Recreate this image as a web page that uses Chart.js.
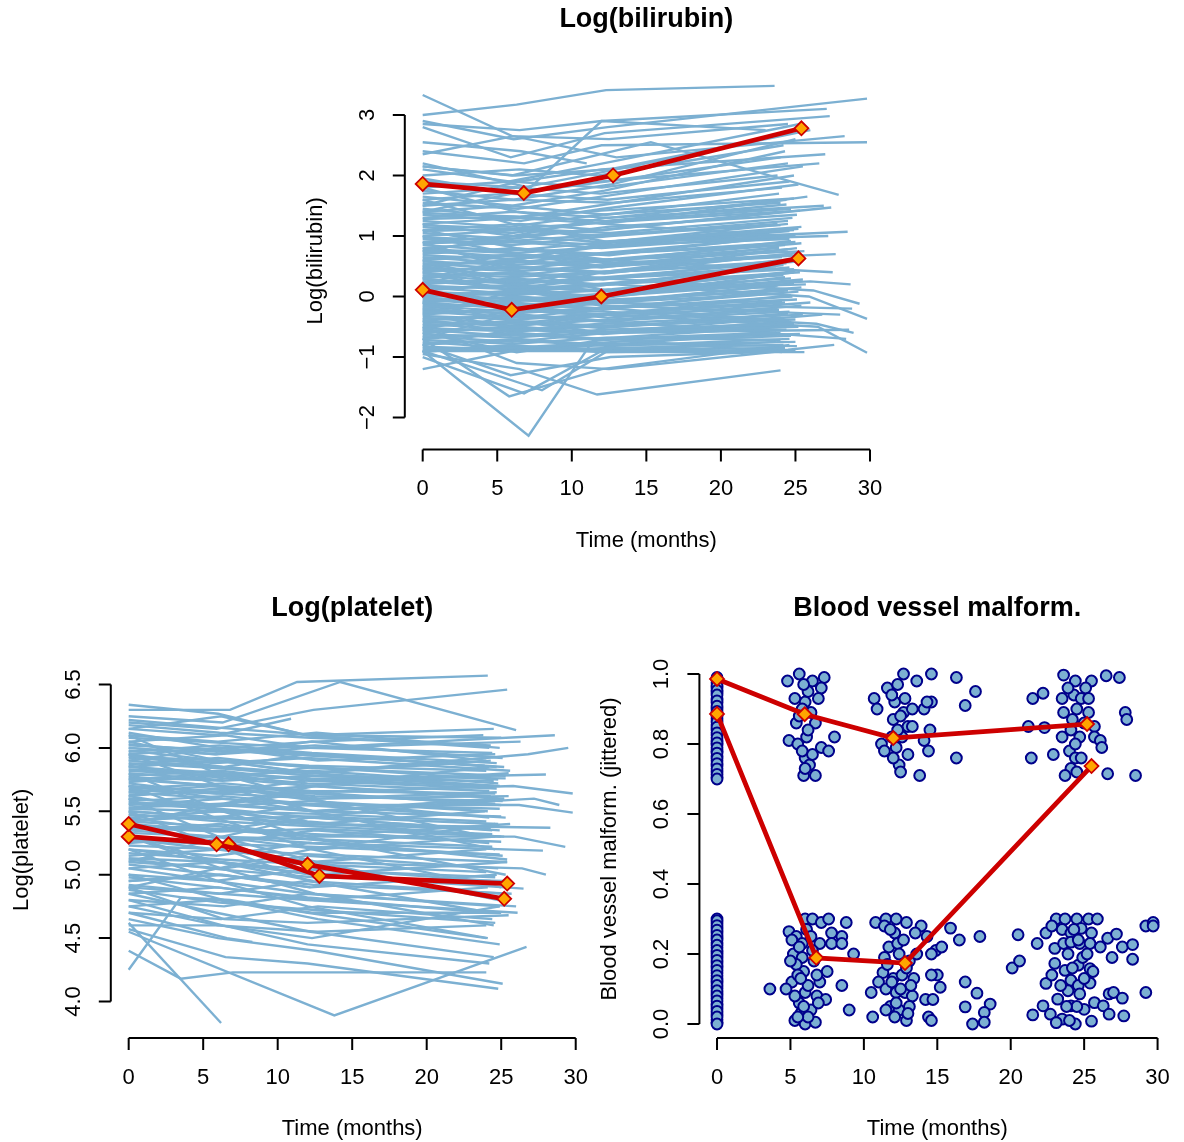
<!DOCTYPE html>
<html>
<head>
<meta charset="utf-8">
<script src="https://cdn.jsdelivr.net/npm/chart.js@4.4.1/dist/chart.umd.min.js"></script>
<style>
html, body { margin: 0; padding: 0; background: #fff; }
#wrap { position: relative; width: 1184px; height: 1142px; }
#wrap canvas { position: absolute; left: 0; top: 0; }
</style>
</head>
<body>
<div id="wrap">
  <canvas id="biliChart" width="1184" height="1142"></canvas>
  <canvas id="plateletChart" width="1184" height="1142"></canvas>
  <canvas id="vesselChart" width="1184" height="1142"></canvas>
</div>
<script>
// ---- data ----
var timeTicks = [0, 5, 10, 15, 20, 25, 30];

var biliTicks = [-2, -1, 0, 1, 2, 3];
var biliTickLabels = ['\u22122', '\u22121', '0', '1', '2', '3'];
// one patient per row: time, value, time, value, ...
var biliCurves = [
    [0,2.15, 6.2,2.0, 12.5,2.1, 24.8,2.7],
    [0,2.1, 5.8,1.9, 12.1,2.2, 25.3,2.85],
    [0,2.0, 6.5,2.1, 11.8,2.0, 24.2,2.5],
    [0,1.95, 6.0,1.7, 12.3,1.9, 24.0,2.3],
    [0,1.9, 6.7,1.8, 13.0,2.1, 26.0,2.75],
    [0,1.8, 5.9,1.9, 12.0,1.8, 24.5,2.2],
    [0,1.75, 6.1,1.6, 12.6,1.85, 25.0,2.6],
    [0,1.7, 6.3,1.8, 11.9,1.7, 23.8,2.0],
    [0,1.65, 6.0,1.5, 12.2,1.75, 24.3,2.4],
    [0,1.6, 5.7,1.7, 12.4,1.6, 24.6,1.9],
    [0,1.55, 6.4,1.45, 12.0,1.65, 25.5,2.15],
    [0,1.5, 6.0,1.6, 12.8,1.55, 24.1,1.8],
    [0,1.45, 6.2,1.3, 11.7,1.5, 24.9,2.0],
    [0,1.4, 5.9,1.5, 12.3,1.35, 23.9,1.7],
    [0,1.35, 6.6,1.25, 12.1,1.45, 25.2,1.85],
    [0,1.3, 6.1,1.4, 12.5,1.3, 24.4,1.6],
    [0,1.25, 5.8,1.15, 11.9,1.35, 24.0,1.55],
    [0,1.2, 6.3,1.3, 12.2,1.2, 25.8,1.65],
    [0,1.15, 6.0,1.05, 12.7,1.25, 24.7,1.45],
    [0,1.1, 6.5,1.2, 12.0,1.1, 24.2,1.4],
    [0,1.05, 5.9,0.95, 12.4,1.15, 25.1,1.35],
    [0,1.0, 6.2,1.1, 12.1,1.0, 24.5,1.25],
    [0,0.95, 6.0,0.85, 12.6,1.0, 23.8,1.2],
    [0,0.9, 6.4,1.0, 11.8,0.9, 24.9,1.1],
    [0,0.85, 5.7,0.75, 12.3,0.9, 25.4,1.15],
    [0,0.8, 6.1,0.9, 12.0,0.8, 24.0,1.0],
    [0,0.75, 6.6,0.65, 12.9,0.85, 24.6,0.95],
    [0,0.7, 6.0,0.8, 12.2,0.7, 25.0,0.9],
    [0,0.65, 5.8,0.55, 11.9,0.7, 24.3,0.85],
    [0,0.6, 6.3,0.7, 12.5,0.6, 23.9,0.8],
    [0,0.55, 6.1,0.45, 12.1,0.6, 25.6,0.75],
    [0,0.5, 5.9,0.6, 12.7,0.5, 24.8,0.7],
    [0,0.45, 6.4,0.35, 12.0,0.5, 24.1,0.65],
    [0,0.4, 6.0,0.5, 12.4,0.4, 25.2,0.6],
    [0,0.35, 6.2,0.25, 11.8,0.4, 24.4,0.55],
    [0,0.3, 5.8,0.4, 12.6,0.3, 23.7,0.5],
    [0,0.25, 6.5,0.15, 12.2,0.3, 24.9,0.45],
    [0,0.2, 6.1,0.3, 12.0,0.2, 25.3,0.4],
    [0,0.15, 5.9,0.05, 12.3,0.2, 24.2,0.35],
    [0,0.1, 6.3,0.2, 11.9,0.1, 24.7,0.3],
    [0,0.05, 6.0,-0.05, 12.5,0.05, 25.0,0.25],
    [0,0.0, 6.2,0.1, 12.1,0.0, 23.9,0.2],
    [0,-0.05, 5.7,-0.15, 12.8,-0.05, 24.5,0.1],
    [0,-0.1, 6.4,0.0, 12.0,-0.1, 25.4,0.15],
    [0,-0.15, 6.1,-0.25, 12.4,-0.1, 24.1,0.05],
    [0,-0.2, 5.9,-0.1, 12.2,-0.2, 24.8,0.0],
    [0,-0.25, 6.6,-0.35, 11.7,-0.2, 25.1,-0.05],
    [0,-0.3, 6.0,-0.2, 12.6,-0.3, 24.3,-0.1],
    [0,-0.35, 6.2,-0.45, 12.1,-0.3, 23.8,-0.2],
    [0,-0.4, 5.8,-0.3, 12.3,-0.4, 24.6,-0.25],
    [0,-0.45, 6.3,-0.55, 12.0,-0.45, 25.5,-0.3],
    [0,-0.5, 6.1,-0.4, 12.7,-0.5, 24.0,-0.35],
    [0,-0.55, 5.9,-0.65, 12.2,-0.55, 24.9,-0.45],
    [0,-0.6, 6.5,-0.5, 11.8,-0.6, 25.2,-0.5],
    [0,-0.65, 6.0,-0.75, 12.4,-0.6, 24.4,-0.55],
    [0,-0.7, 6.2,-0.6, 12.0,-0.7, 23.7,-0.6],
    [0,-0.75, 5.7,-0.85, 12.9,-0.75, 24.7,-0.65],
    [0,-0.8, 6.4,-0.7, 12.1,-0.8, 25.0,-0.75],
    [0,-0.85, 6.0,-0.9, 12.5,-0.85, 24.2,-0.8],
    [0,-0.9, 6.1,-0.9, 12.3,-0.9, 24.8,-0.9],
    [0,-0.92, 5.9,-0.8, 12.0,-0.92, 25.6,-0.92],
    [0,-0.6, 6.3,-0.92, 12.6,-0.7, 24.1,-0.92],
    [0,0.3, 6.5,0.1, 12.8,0.2, 25.9,0.0, 29.8,-0.37],
    [0,-0.4, 6.1,-0.5, 12.4,-0.3, 26.5,-0.5, 29.8,-0.93],
    [0,0.5, 5.8,0.2, 12.2,0.3, 26.2,0.1, 29.3,-0.12],
    [0,-0.2, 6.7,-0.3, 12.0,-0.4, 28.4,-0.7],
    [0,2.15, 6.0,2.0, 15.3,2.55, 27.9,1.68],
    [0,2.9, 6.1,2.6, 12.4,2.8, 29.8,3.27],
    [0,2.4, 6.8,2.2, 12.0,2.5, 29.8,2.55],
    [0,3.0, 6.3,3.17, 12.3,3.41, 23.6,3.48],
    [0,3.33, 6.0,2.65, 12.5,2.6, 24.5,2.85],
    [0,2.85, 6.5,2.75, 12.0,2.9, 27.1,3.1],
    [0,2.8, 5.9,2.3, 12.2,2.7, 27.3,2.98],
    [0,2.55, 6.6,2.4, 11.0,2.2],
    [0,2.35, 6.1,2.65, 13.0,2.3, 28.3,2.65],
    [0,2.2, 7.2,1.8, 12.0,2.9, 23.0,2.75],
    [0,-1.2, 6.0,-0.9, 12.3,-0.8, 24.0,-0.6],
    [0,-0.9, 7.1,-2.3, 11.5,-0.7, 24.2,-0.5],
    [0,-0.7, 5.8,-1.65, 12.0,-1.2, 24.6,-0.8],
    [0,-0.9, 8.0,-1.55, 12.4,-0.9, 23.7,-0.75],
    [0,-0.95, 6.5,-1.2, 11.7,-1.62, 24.0,-1.22],
    [0,-0.5, 6.3,-1.1, 12.5,-1.2, 24.1,-0.9],
    [0,-1.0, 6.8,-1.6, 12.0,-0.9],
    [0,-0.8, 5.9,-1.3, 12.6,-1.0, 25.0,-0.9],
    [0,1.0, 6.2,0.7, 12.1,0.5],
    [0,0.3, 5.9,0.6],
    [0,1.6, 6.0,1.2, 12.4,0.9, 24.5,1.2],
    [0,-0.3, 6.4,0.1, 12.0,0.4, 25.1,0.8],
    [0,0.6, 6.1,0.2, 12.7,-0.2, 24.3,-0.4],
    [0,1.8, 6.3,1.4, 12.2,1.2, 24.0,1.0],
    [0,-0.7, 5.8,-0.3, 12.5,0.0, 24.9,0.4],
    [0,0.9, 6.6,0.4, 12.3,0.1, 25.7,0.2],
    [0,1.4, 6.0,1.7, 12.0,1.9, 26.6,2.2],
    [0,0.2, 6.2,0.6, 12.8,0.9, 27.2,1.0],
    [0,-0.1, 6.0,-0.4, 12.1,-0.6, 26.8,-0.3],
    [0,1.1, 6.3,0.8, 12.6,0.6, 27.5,0.4],
    [0,0.4, 5.9,0.1, 12.0,-0.1, 28.8,-0.2],
    [0,-0.55, 6.5,-0.2, 12.4,-0.35, 26.0,-0.1],
    [0,0.75, 6.1,1.0, 12.2,1.3, 26.9,1.5],
    [0,1.5, 6.4,1.9, 12.0,2.1, 27.0,2.35],
    [0,0.8, 6.0,0.6, 12.9,0.9, 28.5,1.07],
    [0,0.45, 6.3,0.7, 12.4,0.55, 27.7,0.7],
    [0,1.2, 6.1,1.0, 12.1,1.1, 27.4,1.47],
    [0,-0.25, 5.9,-0.05, 12.6,-0.15, 28.0,-0.3],
    [0,-0.8, 6.2,-0.55, 12.0,-0.6, 28.6,-0.55],
    [0,-0.88, 6.0,-0.82, 12.2,-0.88, 24.3,-0.85],
    [0,-0.83, 6.3,-0.88, 12.0,-0.78, 25.1,-0.82],
    [0,-0.78, 5.8,-0.72, 12.5,-0.82, 24.6,-0.7],
    [0,-0.72, 6.1,-0.78, 12.3,-0.68, 24.0,-0.72],
    [0,-0.67, 6.4,-0.62, 11.9,-0.72, 25.3,-0.62],
    [0,-0.62, 6.0,-0.68, 12.6,-0.58, 24.8,-0.48],
    [0,-0.57, 5.9,-0.52, 12.1,-0.62, 24.2,-0.42],
    [0,-0.52, 6.2,-0.58, 12.4,-0.48, 25.0,-0.38],
    [0,-0.47, 6.5,-0.42, 12.0,-0.52, 24.5,-0.28],
    [0,-0.42, 6.0,-0.48, 12.7,-0.38, 23.9,-0.22],
    [0,-0.37, 5.8,-0.32, 12.2,-0.42, 25.4,-0.15],
    [0,-0.32, 6.3,-0.38, 12.5,-0.28, 24.1,-0.08],
    [0,-0.27, 6.1,-0.22, 11.8,-0.32, 24.7,0.02],
    [0,-0.22, 6.0,-0.28, 12.3,-0.18, 25.2,0.08],
    [0,-0.17, 6.4,-0.12, 12.1,-0.22, 24.4,0.12],
    [0,-0.12, 5.9,-0.18, 12.6,-0.08, 23.8,0.18],
    [0,-0.07, 6.2,-0.02, 12.0,-0.12, 24.9,0.22],
    [0,-0.02, 6.0,-0.08, 12.4,0.02, 25.5,0.28],
    [0,0.03, 6.5,0.08, 12.2,-0.02, 24.3,0.32],
    [0,0.08, 5.8,0.02, 12.7,0.12, 24.0,0.38],
    [0,0.13, 6.1,0.18, 12.0,0.08, 25.0,0.42],
    [0,0.18, 6.3,0.12, 12.5,0.22, 24.6,0.48],
    [0,0.23, 6.0,0.28, 11.9,0.18, 24.2,0.52],
    [0,0.28, 5.9,0.22, 12.3,0.32, 25.3,0.58],
    [0,0.33, 6.4,0.38, 12.1,0.28, 24.8,0.62],
    [0,0.38, 6.2,0.32, 12.6,0.42, 24.1,0.68],
    [0,0.43, 6.0,0.48, 12.2,0.38, 25.1,0.72],
    [0,0.48, 6.6,0.42, 12.4,0.52, 24.5,0.78],
    [0,0.53, 5.8,0.58, 12.0,0.48, 23.9,0.82],
    [0,0.58, 6.1,0.52, 12.8,0.62, 25.4,0.88],
    [0,0.63, 6.3,0.68, 12.3,0.58, 24.7,0.92],
    [0,0.68, 6.0,0.62, 12.1,0.72, 24.3,0.98],
    [0,0.73, 5.9,0.78, 12.5,0.68, 25.0,1.02],
    [0,0.78, 6.2,0.72, 12.0,0.82, 24.6,1.08],
    [0,0.88, 6.4,0.92, 12.4,0.85, 25.2,1.12],
    [0,0.98, 6.0,0.92, 12.2,1.02, 24.0,1.18],
    [0,1.08, 6.3,1.12, 12.6,1.05, 24.8,1.3],
    [0,1.18, 5.8,1.12, 12.1,1.22, 25.3,1.42],
    [0,1.28, 6.1,1.32, 12.3,1.25, 24.4,1.52],
    [0,1.38, 6.5,1.32, 12.0,1.42, 24.9,1.62],
    [0,-0.9, 6.2,-0.85, 12.4,-0.92, 24.5,-0.88, 27.6,-0.8],
    [0,-0.1, 6.1,-0.2, 12.2,-0.25, 26.4,-0.45, 28.9,-0.6],
    [0,0.0, 5.9,0.05, 12.5,0.1, 26.0,0.25, 28.7,0.2]
];
var biliMeanTimes = [[0, 6.78, 12.77, 25.4], [0, 5.97, 11.98, 25.2]];
var biliMeanValues = [[1.86, 1.71, 2.0, 2.78], [0.11, -0.22, 0.0, 0.63]];

var plateletTicks = [4.0, 4.5, 5.0, 5.5, 6.0, 6.5];
var plateletTickLabels = ['4.0', '4.5', '5.0', '5.5', '6.0', '6.5'];
var plateletCurves = [
    [0,6.34, 6.0,6.27, 11.9,6.1, 24.2,6.0],
    [0,6.3, 6.8,6.3, 11.3,6.52, 24.1,6.57],
    [0,6.25, 6.3,6.2, 14.2,6.52, 26.0,6.14],
    [0,6.2, 5.9,6.15, 12.4,6.3, 25.4,6.46],
    [0,6.15, 6.2,6.25, 12.0,6.1, 24.5,6.15],
    [0,6.1, 6.0,6.05, 12.6,6.12, 24.9,6.0],
    [0,6.05, 6.5,6.1, 12.1,6.0, 26.3,6.05],
    [0,6.0, 5.8,5.95, 12.3,6.05, 24.0,5.9],
    [0,5.95, 6.1,6.0, 12.7,5.9, 24.6,5.95],
    [0,5.9, 6.4,5.85, 11.9,5.95, 25.2,5.85],
    [0,5.85, 6.0,5.9, 12.2,5.8, 24.3,5.9],
    [0,5.8, 5.9,5.75, 12.5,5.85, 24.8,5.75],
    [0,5.75, 6.3,5.8, 12.0,5.7, 25.5,5.8],
    [0,5.7, 6.1,5.65, 12.4,5.75, 24.1,5.7],
    [0,5.65, 5.7,5.7, 12.8,5.6, 24.7,5.65],
    [0,5.6, 6.2,5.55, 12.1,5.65, 25.0,5.55],
    [0,5.55, 6.6,5.6, 12.3,5.5, 24.4,5.6],
    [0,5.5, 6.0,5.45, 11.8,5.55, 25.3,5.45],
    [0,5.45, 6.3,5.5, 12.6,5.4, 23.9,5.5],
    [0,5.4, 5.8,5.35, 12.2,5.45, 24.9,5.35],
    [0,5.35, 6.1,5.4, 12.0,5.3, 25.6,5.4],
    [0,5.3, 6.4,5.25, 12.5,5.35, 24.2,5.25],
    [0,5.25, 6.0,5.3, 12.7,5.2, 24.6,5.3],
    [0,5.2, 5.9,5.15, 12.1,5.25, 25.1,5.15],
    [0,5.15, 6.2,5.2, 12.3,5.1, 24.0,5.2],
    [0,5.1, 6.5,5.05, 12.0,5.15, 24.8,5.05],
    [0,5.05, 6.0,5.1, 12.4,5.0, 25.4,5.1],
    [0,5.0, 5.8,4.95, 12.6,5.05, 24.3,4.95],
    [0,4.95, 6.3,5.0, 12.2,4.9, 24.7,5.0],
    [0,4.9, 6.1,4.85, 11.9,4.95, 25.2,4.85],
    [0,4.85, 6.0,4.9, 12.5,4.8, 24.1,4.9],
    [0,4.8, 6.4,4.75, 12.0,4.85, 24.9,4.75],
    [0,4.75, 5.9,4.8, 12.3,4.7, 25.0,4.7],
    [0,4.7, 6.2,4.65, 12.7,4.75, 24.4,4.65],
    [0,5.95, 6.1,5.7, 12.4,5.5, 24.6,5.2],
    [0,5.8, 6.3,5.5, 12.0,5.3, 25.3,5.0],
    [0,6.1, 5.9,5.8, 12.2,5.6, 24.0,5.3],
    [0,5.6, 6.0,5.3, 12.6,5.1, 24.8,4.8],
    [0,5.5, 6.5,5.2, 12.1,4.95, 24.3,4.7],
    [0,5.7, 5.8,5.45, 12.3,5.2, 25.0,4.9],
    [0,5.3, 6.2,5.05, 12.5,4.85, 24.5,4.6],
    [0,5.2, 6.0,4.95, 12.0,4.75, 24.1,4.5],
    [0,5.0, 6.4,4.8, 12.7,4.65, 24.9,4.45],
    [0,5.9, 6.1,6.0, 12.4,6.05, 23.8,6.1],
    [0,4.9, 6.0,5.05, 12.2,5.2, 24.6,5.4],
    [0,5.1, 6.3,5.3, 11.9,5.45, 25.2,5.6],
    [0,5.4, 5.9,5.55, 12.5,5.7, 24.2,5.85],
    [0,5.75, 6.2,5.7, 12.4,5.65, 25.8,5.7, 29.8,5.64],
    [0,5.65, 6.0,5.6, 12.1,5.55, 26.2,5.55, 29.8,5.49],
    [0,5.45, 6.4,5.35, 12.6,5.3, 25.9,5.3, 29.3,5.22],
    [0,6.0, 5.9,5.95, 12.2,6.0, 28.6,6.1],
    [0,5.5, 6.1,5.45, 12.0,5.4, 28.3,5.37],
    [0,5.85, 6.3,5.8, 12.8,5.75, 28.0,5.79],
    [0,5.35, 6.0,5.3, 12.3,5.25, 27.8,5.19],
    [0,5.2, 6.2,5.1, 12.5,5.0, 26.5,4.89],
    [0,5.05, 5.8,4.95, 12.1,4.85, 26.0,4.75],
    [0,4.25, 3.5,4.82, 6.8,4.8, 12.0,4.7, 24.0,4.5],
    [0,4.55, 13.8,3.89, 26.7,4.43],
    [0,4.62, 6.2,3.83],
    [0,4.4, 3.5,4.18, 7.0,4.23, 24.0,4.23],
    [0,4.57, 6.5,4.35, 12.0,4.3, 24.8,4.1],
    [0,4.65, 6.0,4.5, 12.5,4.4, 25.1,4.14],
    [0,4.8, 6.3,4.6, 12.0,4.45, 24.2,4.3],
    [0,4.85, 5.9,4.7, 12.2,4.55, 24.5,4.35],
    [0,4.7, 6.6,4.5, 8.3,4.47],
    [0,4.75, 6.0,4.6, 12.7,4.55, 24.0,4.6],
    [0,4.6, 6.1,4.6, 12.3,4.5, 24.9,4.75],
    [0,4.9, 6.4,4.65, 12.0,4.62, 25.5,4.68],
    [0,5.78, 6.2,5.82, 12.1,5.74, 24.7,5.68],
    [0,5.62, 6.0,5.68, 12.5,5.62, 25.1,5.58],
    [0,5.72, 5.9,5.64, 12.3,5.7, 24.3,5.62],
    [0,5.58, 6.3,5.62, 12.0,5.56, 24.9,5.52],
    [0,5.88, 6.1,5.84, 12.4,5.78, 25.3,5.76],
    [0,5.52, 6.0,5.5, 12.6,5.48, 24.0,5.42],
    [0,5.68, 6.4,5.72, 12.2,5.66, 24.6,5.64],
    [0,5.92, 5.8,5.88, 12.0,5.92, 25.6,5.82],
    [0,5.48, 6.2,5.42, 12.7,5.38, 24.4,5.32],
    [0,5.82, 6.0,5.78, 12.3,5.82, 24.8,5.72],
    [0,6.02, 6.5,5.98, 12.1,5.94, 23.9,5.86],
    [0,5.38, 6.1,5.36, 12.5,5.32, 25.0,5.26],
    [0,6.15, 6.0,6.1, 10.9,6.23],
    [0,5.3, 6.0,5.1, 12.4,4.95],
    [0,5.7, 6.3,5.6],
    [0,4.95, 6.1,5.0, 12.2,4.9],
    [0,6.05, 6.0,5.9, 12.3,5.85],
    [0,5.98, 6.0,5.9, 12.4,5.8, 24.5,5.7],
    [0,5.62, 6.3,5.5, 12.0,5.42, 25.0,5.3],
    [0,5.76, 5.9,5.7, 12.6,5.58, 24.2,5.45],
    [0,6.12, 6.1,6.0, 12.2,5.95, 24.7,5.85],
    [0,5.42, 6.2,5.38, 12.1,5.28, 25.4,5.12],
    [0,5.56, 6.0,5.52, 12.5,5.45, 24.4,5.35],
    [0,5.86, 6.4,5.76, 12.3,5.7, 25.2,5.6],
    [0,4.88, 6.1,4.78, 12.7,4.72, 24.6,4.62],
    [0,4.98, 5.9,4.9, 12.0,4.82, 24.1,4.7],
    [0,5.12, 6.3,5.04, 12.4,4.98, 25.3,4.95],
    [0,6.08, 6.2,6.04, 12.0,6.0, 24.4,5.96],
    [0,6.03, 5.9,5.97, 12.5,6.02, 25.1,5.92],
    [0,5.97, 6.1,6.02, 12.3,5.96, 24.7,5.88],
    [0,5.93, 6.4,5.9, 12.1,5.86, 24.0,5.82],
    [0,5.87, 6.0,5.92, 12.6,5.84, 25.3,5.78],
    [0,5.83, 5.8,5.8, 12.2,5.76, 24.5,5.74],
    [0,5.77, 6.3,5.74, 12.4,5.78, 24.9,5.7],
    [0,5.73, 6.1,5.78, 12.0,5.72, 24.2,5.66],
    [0,5.67, 6.0,5.64, 12.7,5.6, 25.5,5.62],
    [0,5.63, 6.5,5.66, 12.3,5.64, 24.6,5.56],
    [0,5.57, 5.9,5.54, 12.1,5.58, 24.1,5.5],
    [0,5.53, 6.2,5.56, 12.5,5.5, 25.0,5.46],
    [0,5.47, 6.0,5.44, 12.2,5.46, 24.8,5.4],
    [0,5.43, 6.4,5.46, 12.0,5.4, 24.3,5.36],
    [0,5.37, 6.1,5.34, 12.6,5.36, 25.2,5.3],
    [0,5.33, 5.8,5.3, 12.4,5.28, 24.4,5.22],
    [0,5.27, 6.3,5.24, 12.1,5.22, 24.9,5.16],
    [0,5.23, 6.0,5.2, 12.3,5.16, 25.4,5.1],
    [0,5.17, 6.2,5.12, 12.5,5.08, 24.0,5.02],
    [0,5.13, 5.9,5.1, 12.0,5.04, 24.6,4.98],
    [0,6.18, 6.1,6.12, 12.2,6.08, 24.3,6.02],
    [0,6.22, 6.0,6.16, 12.4,6.1, 25.0,6.08],
    [0,5.95, 6.3,5.85, 12.1,5.8, 26.8,5.95, 29.5,6.0],
    [0,5.6, 6.1,5.55, 12.6,5.5, 27.2,5.6, 28.9,5.55],
    [0,5.28, 5.9,5.2, 12.3,5.1, 26.4,5.05, 28.0,5.0],
    [0,4.92, 6.2,4.85, 12.0,4.8, 26.1,4.7],
    [0,5.08, 6.0,5.0, 12.4,4.92, 25.7,4.85]
];
var plateletMeanTimes = [[0, 5.9, 12.0, 25.2], [0, 6.7, 12.8, 25.4]];
var plateletMeanValues = [[5.40, 5.24, 5.08, 4.81], [5.30, 5.24, 4.99, 4.93]];

var vesselTicks = [0, 0.2, 0.4, 0.6, 0.8, 1.0];
var vesselTickLabels = ['0.0', '0.2', '0.4', '0.6', '0.8', '1.0'];
var vesselTimes = [
    0,0,0,0,0,0,0,0,0,0,0,0,0,0,0,0,0,0,0,0,
    0,0,0,0,0,0,0,0,0,0,0,0,0,0,0,0,0,0,0,0,0,0,
    0,0,0,0,0,0,0,0,0,0,0,0,0,0,0,0,0,0,0,0,
    0,0,0,0,0,0,0,0,0,0,0,0,0,0,0,0,0,0,0,0,0,
    4.8,5.6,6.5,7.3,7.1,5.3,6.0,6.9,6.2,6.7,5.4,8.0,4.9,5.5,6.1,7.1,7.6,6.0,5.9,6.7,6.3,5.8,6.4,5.9,
    6.2,5.8,6.5,6.0,5.6,
    10.7,10.9,11.6,12.3,12.7,13.6,14.6,12.1,12.7,13.3,14.1,14.6,12.0,13.0,13.3,11.2,11.4,12.2,13.0,14.4,12.4,12.5,13.8,14.1,11.9,12.6,
    12.3,12.0,12.8,11.9,12.5,
    16.3,17.6,16.9,14.5,16.3,14.3,
    23.6,24.4,25.5,26.5,27.4,22.2,21.5,23.5,24.3,25.1,23.6,24.5,25.3,27.8,27.9,21.2,22.3,24.1,25.7,23.5,25.7,26.1,26.2,24.0,22.9,21.4,24.4,24.8,24.1,23.7,24.5,26.6,28.5,24.8,25.0,
    24.2,24.7,23.9,24.4,25.3,
    4.9,5.4,6.0,6.5,7.1,7.6,8.8,7.8,8.5,5.1,5.8,7.0,7.8,8.5,9.3,5.2,5.8,5.9,5.1,5.4,7.5,3.6,4.7,8.5,6.0,6.8,5.6,6.4,5.3,6.0,6.7,7.4,9.0,5.7,6.2,7.0,5.5,6.5,
    6.1,5.6,6.6,5.3,6.2,5.9,6.8,5.0,6.4,5.7,6.9,5.5,
    10.8,11.5,12.2,12.9,13.9,11.4,12.1,13.5,14.3,14.9,11.7,12.3,11.3,12.0,12.6,13.4,11.0,11.5,12.2,12.8,13.3,11.8,12.4,13.1,12.1,12.9,10.6,10.5,14.2,14.7,14.4,15.0,11.4,13.1,
    11.8,12.4,12.9,11.6,12.2,13.2,11.9,12.7,13.6,12.5,11.5,13.0,
    15.9,16.5,17.9,15.3,14.6,14.6,15.2,16.9,17.7,18.6,18.2,16.9,17.4,18.2,14.6,20.5,20.1,20.6,21.8,22.4,21.5,22.2,22.7,22.4,
    23.1,23.7,24.5,25.3,25.9,22.8,23.5,24.1,24.8,25.5,26.6,27.2,23.0,23.6,24.1,24.7,25.4,26.1,27.6,28.3,23.0,23.7,24.6,25.4,26.9,28.3,22.8,24.1,24.6,25.4,23.9,24.7,23.2,24.1,25.7,26.7,27.0,27.6,26.3,25.0,23.5,24.4,25.5,26.7,27.7,23.1,29.2,29.2,29.7,29.7,
    24.3,24.9,23.9,24.5,25.2,23.8,24.2,25.0,24.6,23.4,25.6,24.0
];
var vesselValues = [
    0.99,0.975,0.96,0.948,0.93,0.918,0.9,0.887,0.872,0.855,0.84,0.826,0.81,0.797,0.78,0.766,0.752,0.737,0.72,0.706,
    0.3,0.288,0.275,0.26,0.247,0.232,0.218,0.203,0.19,0.174,0.16,0.146,0.13,0.117,0.102,0.088,0.073,0.058,0.044,0.028,0.012,0.004,
    0.982,0.967,0.953,0.94,0.923,0.908,0.893,0.879,0.863,0.848,0.832,0.818,0.803,0.789,0.774,0.759,0.744,0.729,0.713,0.7,
    0.295,0.281,0.268,0.253,0.24,0.225,0.21,0.196,0.182,0.167,0.153,0.138,0.124,0.11,0.095,0.08,0.066,0.051,0.036,0.02,0.0,
    0.98,1.0,0.98,0.99,0.96,0.93,0.92,0.93,0.95,0.86,0.86,0.82,0.81,0.8,0.82,0.79,0.78,0.76,0.71,0.71,0.74,0.78,0.89,0.97,
    0.84,0.9,0.77,0.73,0.88,
    0.93,0.9,0.96,0.97,1.0,0.98,1.0,0.92,0.89,0.9,0.9,0.92,0.87,0.85,0.85,0.8,0.78,0.79,0.77,0.78,0.74,0.72,0.71,0.81,0.94,0.82,
    0.84,0.76,0.93,0.82,0.88,
    0.99,0.95,0.91,0.84,0.76,0.92,
    0.997,0.98,0.98,0.995,0.99,0.945,0.93,0.93,0.94,0.96,0.89,0.9,0.89,0.89,0.87,0.85,0.847,0.84,0.85,0.82,0.82,0.81,0.79,0.78,0.77,0.76,0.76,0.76,0.73,0.71,0.72,0.715,0.71,0.93,0.86,
    0.87,0.82,0.96,0.8,0.93,
    0.264,0.25,0.3,0.3,0.29,0.3,0.29,0.26,0.25,0.24,0.23,0.23,0.23,0.23,0.2,0.2,0.19,0.15,0.12,0.17,0.15,0.1,0.1,0.11,0.09,0.08,0.06,0.04,0.01,0.0,0.005,0.07,0.04,0.03,0.02,0.12,0.14,0.21,
    0.27,0.22,0.18,0.08,0.11,0.05,0.14,0.18,0.25,0.13,0.06,0.02,
    0.29,0.3,0.3,0.29,0.28,0.28,0.26,0.26,0.25,0.21,0.22,0.23,0.147,0.13,0.14,0.13,0.12,0.1,0.09,0.09,0.08,0.05,0.04,0.05,0.02,0.01,0.02,0.09,0.07,0.07,0.02,0.14,0.19,0.18,
    0.27,0.2,0.16,0.17,0.06,0.11,0.12,0.24,0.2,0.1,0.04,0.03,
    0.274,0.24,0.25,0.22,0.2,0.14,0.105,0.12,0.088,0.057,0.033,0.049,0.0,0.005,0.01,0.255,0.16,0.18,0.23,0.26,0.026,0.052,0.028,0.116,
    0.3,0.3,0.3,0.3,0.3,0.28,0.27,0.26,0.273,0.26,0.245,0.257,0.216,0.23,0.234,0.23,0.23,0.22,0.22,0.227,0.173,0.153,0.168,0.158,0.19,0.185,0.14,0.125,0.11,0.117,0.095,0.086,0.071,0.052,0.061,0.086,0.09,0.074,0.052,0.042,0.014,0.0,0.008,0.028,0.023,0.004,0.09,0.28,0.29,0.28,
    0.27,0.19,0.2,0.05,0.2,0.05,0.16,0.13,0.24,0.11,0.15,0.01
];
var vesselMeanTimes = [[0, 5.97, 12.0, 25.2], [0, 6.76, 12.8, 25.5]];
var vesselMeanValues = [[0.986, 0.885, 0.817, 0.857], [0.886, 0.189, 0.174, 0.737]];

// ---- styles ----
var W = 1184, H = 1142;
var blue = '#7CB0D2';
var red = '#CD0000';
var orange = '#FFA500';
var navy = '#00008B';
var font = '"Liberation Sans", Arial, Helvetica, sans-serif';

function curveDataset(flat) {
    var pts = [];
    for (var i = 0; i < flat.length; i += 2) pts.push({ x: flat[i], y: flat[i + 1] });
    return { data: pts, showLine: true, borderColor: blue, borderWidth: 2.4, pointRadius: 0, pointHoverRadius: 0, fill: false, tension: 0 };
}

function meanDatasets(times, values) {
    return times.map(function (ts, k) {
        return {
            data: ts.map(function (t, i) { return { x: t, y: values[k][i] }; }),
            showLine: true, borderColor: red, borderWidth: 4.8, tension: 0, fill: false,
            pointStyle: 'rectRot', pointRadius: 7, pointHoverRadius: 7,
            pointBackgroundColor: orange, pointBorderColor: red, pointBorderWidth: 1.8
        };
    });
}

function rAxes(p) {
    return {
        id: 'rAxes',
        afterDraw: function (chart) {
            var ctx = chart.ctx, a = chart.chartArea, xs = chart.scales.x, ys = chart.scales.y;
            ctx.save();
            ctx.strokeStyle = '#000';
            ctx.fillStyle = '#000';
            ctx.lineWidth = 2;
            ctx.beginPath();
            ctx.moveTo(xs.getPixelForValue(timeTicks[0]), a.bottom);
            ctx.lineTo(xs.getPixelForValue(timeTicks[timeTicks.length - 1]), a.bottom);
            timeTicks.forEach(function (t) {
                var px = xs.getPixelForValue(t);
                ctx.moveTo(px, a.bottom);
                ctx.lineTo(px, a.bottom + 12);
            });
            ctx.moveTo(a.left, ys.getPixelForValue(p.yTicks[0]));
            ctx.lineTo(a.left, ys.getPixelForValue(p.yTicks[p.yTicks.length - 1]));
            p.yTicks.forEach(function (v) {
                var py = ys.getPixelForValue(v);
                ctx.moveTo(a.left, py);
                ctx.lineTo(a.left - 12, py);
            });
            ctx.stroke();

            ctx.font = '22px ' + font;
            ctx.textAlign = 'center';
            ctx.textBaseline = 'middle';
            timeTicks.forEach(function (t) {
                ctx.fillText(String(t), xs.getPixelForValue(t), a.bottom + 39.5);
            });
            p.yTicks.forEach(function (v, i) {
                ctx.save();
                ctx.translate(a.left - 37, ys.getPixelForValue(v));
                ctx.rotate(-Math.PI / 2);
                ctx.fillText(p.yLabels[i], 0, 0);
                ctx.restore();
            });
            ctx.fillText('Time (months)', (a.left + a.right) / 2, a.bottom + 91);
            ctx.save();
            ctx.translate(a.left - 89, (a.top + a.bottom) / 2);
            ctx.rotate(-Math.PI / 2);
            ctx.fillText(p.ylab, 0, 0);
            ctx.restore();

            ctx.font = 'bold 27px ' + font;
            ctx.fillText(p.title, (a.left + a.right) / 2, p.titleY);
            ctx.restore();
        }
    };
}

function makePanel(p) {
    new Chart(document.getElementById(p.id), {
        type: 'scatter',
        data: { datasets: p.datasets },
        options: {
            responsive: false,
            animation: false,
            events: [],
            layout: { padding: { left: p.box.left, top: p.box.top, right: W - p.box.right, bottom: H - p.box.bottom } },
            plugins: { legend: { display: false }, tooltip: { enabled: false } },
            scales: {
                x: { type: 'linear', min: -1.2, max: 31.2, display: false },
                y: { type: 'linear', min: p.yRange[0], max: p.yRange[1], display: false }
            }
        },
        plugins: [rAxes(p)]
    });
}

// mean curves first so Chart.js paints them on top
makePanel({
    id: 'biliChart',
    box: { left: 404.8, right: 887.9, top: 72, bottom: 449.6 },
    yRange: [-2.53, 3.71],
    yTicks: biliTicks, yLabels: biliTickLabels,
    title: 'Log(bilirubin)', titleY: 20, ylab: 'Log(bilirubin)',
    datasets: meanDatasets(biliMeanTimes, biliMeanValues).concat(biliCurves.map(curveDataset))
});

makePanel({
    id: 'plateletChart',
    box: { left: 110.8, right: 593.6, top: 661.7, bottom: 1038 },
    yRange: [3.712, 6.68],
    yTicks: plateletTicks, yLabels: plateletTickLabels,
    title: 'Log(platelet)', titleY: 609, ylab: 'Log(platelet)',
    datasets: meanDatasets(plateletMeanTimes, plateletMeanValues).concat(plateletCurves.map(curveDataset))
});

makePanel({
    id: 'vesselChart',
    box: { left: 699.4, right: 1183.1, top: 660, bottom: 1038 },
    yRange: [-0.04, 1.04],
    yTicks: vesselTicks, yLabels: vesselTickLabels,
    title: 'Blood vessel malform.', titleY: 609, ylab: 'Blood vessel malform. (jittered)',
    datasets: meanDatasets(vesselMeanTimes, vesselMeanValues).concat([{
        data: vesselTimes.map(function (t, i) { return { x: t, y: vesselValues[i] }; }),
        pointRadius: 5.4, pointHoverRadius: 5.4,
        backgroundColor: blue, borderColor: navy, borderWidth: 2
    }])
});
</script>
</body>
</html>
